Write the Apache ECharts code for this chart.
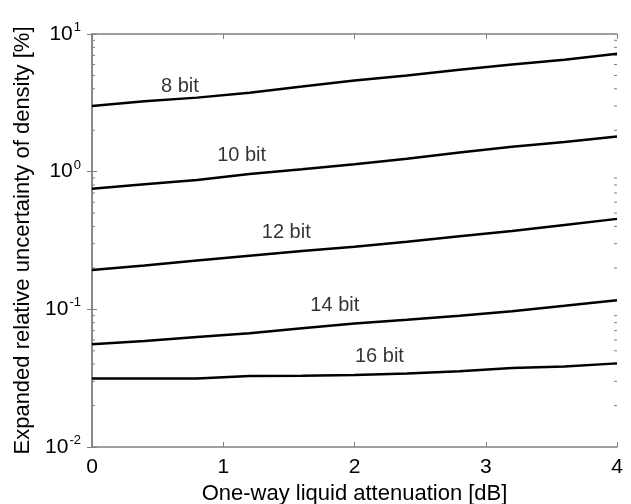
<!DOCTYPE html>
<html>
<head>
<meta charset="utf-8">
<script src="https://cdn.jsdelivr.net/npm/echarts@6/dist/echarts.min.js"></script>
<style>
  html, body { margin: 0; padding: 0; background: #fff; }
  #chart { width: 631px; height: 504px; }
</style>
</head>
<body>
<div id="chart"></div>
<script>
// attenuation [dB]
const xs = [0, 0.4, 0.8, 1.2, 1.6, 2.0, 2.4, 2.8, 3.2, 3.6, 4.0]
// expanded relative uncertainty [%] per ADC resolution
const bit8 = [3.0, 3.25, 3.45, 3.75, 4.15, 4.6, 5.0, 5.5, 6.0, 6.5, 7.2]
const bit10 = [0.75, 0.81, 0.87, 0.96, 1.04, 1.13, 1.24, 1.38, 1.52, 1.64, 1.80]
const bit12 = [0.193, 0.208, 0.226, 0.245, 0.265, 0.285, 0.31, 0.34, 0.37, 0.41, 0.454]
const bit14 = [0.0557, 0.059, 0.063, 0.067, 0.073, 0.079, 0.084, 0.090, 0.097, 0.106, 0.1164]
const bit16 = [0.0314, 0.0314, 0.0314, 0.0328, 0.0329, 0.0333, 0.0342, 0.0355, 0.0375, 0.0385, 0.0405]
const lineNames = ['8 bit', '10 bit', '12 bit', '14 bit', '16 bit']
// label anchor points in data space
const labelX = [0.67, 1.14, 1.48, 1.85, 2.19]
const labelY = [4.19, 1.30, 0.359, 0.106, 0.0454]
const minorY = []
for (const d of [0.01, 0.1, 1]) {
  for (let k = 2; k <= 9; k++) minorY.push(k * d)
}

const font = 'Liberation Sans, Arial, sans-serif'
const allLines = [bit8, bit10, bit12, bit14, bit16]

const chart = echarts.init(document.getElementById('chart'))

const lineSeries = allLines.map((arr, i) => ({
  name: lineNames[i],
  type: 'line',
  data: xs.map((x, j) => [x, arr[j]]),
  showSymbol: false,
  symbol: 'none',
  lineStyle: { color: '#000', width: 2.5 },
  z: 3
}))

const option = {
  animation: false,
  backgroundColor: '#fff',
  grid: { left: 92, right: 14, top: 34, bottom: 57, outerBoundsMode: 'none' },
  xAxis: [{
    type: 'value',
    min: 0,
    max: 4,
    interval: 1,
    name: 'One-way liquid attenuation [dB]',
    nameLocation: 'middle',
    nameGap: 33,
    nameTextStyle: { fontFamily: font, fontSize: 22, color: '#000' },
    axisLine: { lineStyle: { color: '#808080', width: 1.5 } },
    axisTick: { inside: true, length: 5, lineStyle: { color: '#808080' } },
    axisLabel: { fontFamily: font, fontSize: 21, color: '#000', margin: 10 },
    splitLine: { show: false }
  }, {
    type: 'value',
    position: 'top',
    min: 0,
    max: 4,
    interval: 1,
    axisLine: { lineStyle: { color: '#808080', width: 1.5 } },
    axisTick: { inside: true, length: 5, lineStyle: { color: '#808080' } },
    axisLabel: { show: false },
    splitLine: { show: false }
  }],
  yAxis: [{
    type: 'log',
    logBase: 10,
    min: 0.01,
    max: 10,
    name: 'Expanded relative uncertainty of density [%]',
    nameLocation: 'middle',
    nameGap: 56,
    nameTextStyle: { fontFamily: font, fontSize: 22, color: '#000' },
    axisLine: { show: true, lineStyle: { color: '#808080', width: 1.5 } },
    axisTick: { inside: true, length: 5, lineStyle: { color: '#808080' } },
    axisLabel: {
      fontFamily: font,
      margin: 11,
      formatter: (v) => '{b|10}{s|' + Math.round(Math.log10(v)) + '}',
      rich: {
        b: { fontFamily: font, fontSize: 21, color: '#000' },
        s: { fontFamily: font, fontSize: 13, color: '#000', verticalAlign: 'top', padding: [0, 0, 13, 1] }
      }
    },
    splitLine: { show: false }
  }, {
    type: 'log',
    logBase: 10,
    min: 0.01,
    max: 10,
    position: 'right',
    axisLine: { show: true, lineStyle: { color: '#808080', width: 1.5 } },
    axisTick: { inside: true, length: 5, lineStyle: { color: '#808080' } },
    axisLabel: { show: false },
    splitLine: { show: false }
  }],
  series: lineSeries.concat([{
    type: 'scatter',
    symbolSize: 0,
    data: lineNames.map((n, i) => ({ name: n, value: [labelX[i], labelY[i]] })),
    label: {
      show: true,
      position: 'inside',
      formatter: '{b}',
      fontFamily: font,
      fontSize: 20,
      color: '#000'
    },
    z: 4
  }, {
    type: 'custom',
    data: minorY.map(v => [0, v]),
    clip: false,
    renderItem: (params, api) => {
      const l = api.coord([0, api.value(1)])
      const r = api.coord([4, api.value(1)])
      const st = { stroke: '#808080', lineWidth: 1 }
      return {
        type: 'group',
        children: [
          { type: 'line', shape: { x1: l[0], y1: l[1], x2: l[0] + 3, y2: l[1] }, style: st },
          { type: 'line', shape: { x1: r[0], y1: r[1], x2: r[0] - 3, y2: r[1] }, style: st }
        ]
      }
    },
    z: 2
  }])
}
chart.setOption(option)
</script>
</body>
</html>
